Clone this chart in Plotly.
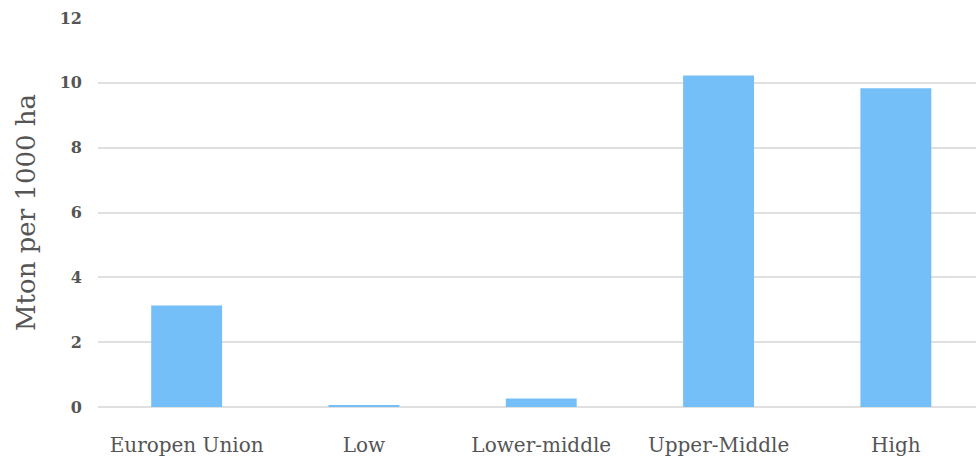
import plotly.graph_objects as go

# Income groups and their values (Mton per 1000 ha)
categories = ["Europen Union", "Low", "Lower-middle", "Upper-Middle", "High"]
values = [3.13, 0.05, 0.26, 10.23, 9.83]
y_ticks = [0, 2, 4, 6, 8, 10, 12]

BAR_COLOR = "#75BFF8"
TEXT_COLOR = "#555555"
GRID_COLOR = "#E0E0E0"
FONT = "DejaVu Serif"

fig = go.Figure(
    go.Bar(
        x=categories,
        y=values,
        marker=dict(color=BAR_COLOR, line=dict(width=0)),
        width=0.4,
    )
)

fig.update_layout(
    width=976,
    height=462,
    margin=dict(l=98, r=0, t=18, b=55),
    paper_bgcolor="white",
    plot_bgcolor="white",
    showlegend=False,
    font=dict(family=FONT, color=TEXT_COLOR),
)

fig.update_xaxes(
    range=[-0.5, 4.452],
    showgrid=False,
    showline=False,
    tickfont=dict(size=20, color=TEXT_COLOR),
    ticklabelstandoff=24,
)

fig.update_yaxes(
    range=[0, 12],
    tickvals=y_ticks,
    ticktext=[str(v) for v in y_ticks],
    showgrid=True,
    gridcolor=GRID_COLOR,
    gridwidth=1.6,
    zeroline=True,
    zerolinecolor=GRID_COLOR,
    zerolinewidth=1.6,
    tickfont=dict(size=16, color=TEXT_COLOR, weight=600),
    ticklabelstandoff=15,
    title=dict(text="Mton per 1000 ha", font=dict(size=26, color=TEXT_COLOR), standoff=16),
)

fig.write_html("out.html")
